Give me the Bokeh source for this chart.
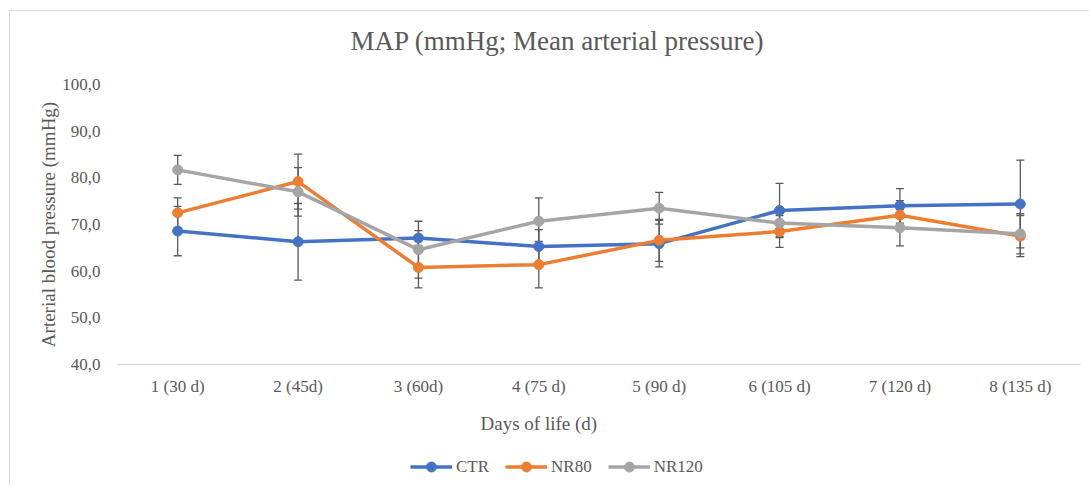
from bokeh.plotting import figure
from bokeh.layouts import column
from bokeh.models import (ColumnDataSource, Whisker, TeeHead, FixedTicker, Legend,
                          LegendItem, Range1d, LinearAxis)
from bokeh.embed import file_html
from bokeh.resources import INLINE

# Measurement points (days of life)
categories = ["1 (30 d)", "2 (45d)", "3 (60d)", "4 (75 d)", "5 (90 d)",
              "6 (105 d)", "7 (120 d)", "8 (135 d)"]
y_ticks = [40, 50, 60, 70, 80, 90, 100]
y_tick_labels = ["40,0", "50,0", "60,0", "70,0", "80,0", "90,0", "100,0"]

# Mean arterial pressure (mmHg) and error per group
ctr = [68.6, 66.3, 67.1, 65.3, 65.9, 73.0, 74.0, 74.4]
ctr_err = [5.3, 8.2, 1.6, 3.6, 5.0, 5.8, 3.7, 9.4]
nr80 = [72.5, 79.2, 60.8, 61.4, 66.6, 68.5, 72.0, 67.5]
nr80_err = [3.2, 5.9, 4.4, 5.0, 4.5, 3.4, 3.1, 4.4]
nr120 = [81.7, 77.0, 64.6, 70.7, 73.5, 70.3, 69.3, 68.0]
nr120_err = [3.1, 5.2, 6.1, 5.0, 3.4, 2.9, 3.9, 4.3]

series = [("CTR", ctr, ctr_err, "#4472C4"),
          ("NR80", nr80, nr80_err, "#ED7D31"),
          ("NR120", nr120, nr120_err, "#A5A5A5")]

TITLE = "MAP (mmHg; Mean arterial pressure)"
X_TITLE = "Days of life (d)"
Y_TITLE = "Arterial blood pressure (mmHg)"

FONT = "Liberation Serif"
TEXT = "#595959"
FRAME_LINE = "1px solid #D9D9D9"

x_pos = list(range(1, len(categories) + 1))

# ---- main chart ----
p = figure(width=1080, height=435, x_range=Range1d(0.5, 8.5), y_range=Range1d(40, 100),
           output_backend="svg", toolbar_location=None,
           min_border_left=107, min_border_right=10, min_border_top=73,
           min_border_bottom=82, margin=(10, 0, 0, 9))
p.styles = {"border-top": FRAME_LINE, "border-left": FRAME_LINE}
p.background_fill_color = "white"
p.border_fill_color = "white"
p.outline_line_color = None
p.xgrid.visible = False
p.ygrid.visible = False


def bare_axis(axis):
    axis.axis_line_color = None
    axis.major_tick_line_color = None
    axis.minor_tick_line_color = None
    axis.major_label_text_font = FONT
    axis.major_label_text_color = TEXT


# x axis with category labels
xa = p.xaxis[0]
xa.ticker = FixedTicker(ticks=x_pos)
xa.major_label_overrides = {i: c for i, c in zip(x_pos, categories)}
bare_axis(xa)
xa.axis_line_color = "#D9D9D9"
xa.axis_line_width = 1.5
xa.major_label_text_font_size = "17px"
xa.major_label_standoff = 6

# x axis title, set slightly left of the plot centre
x_title_pos = 4.0
xt = LinearAxis(ticker=FixedTicker(ticks=[x_title_pos]),
                major_label_overrides={x_title_pos: X_TITLE})
bare_axis(xt)
xt.major_label_text_font_size = "19px"
xt.major_label_standoff = 8
p.add_layout(xt, "below")

# chart title
title_pos = 4.155
tt = LinearAxis(ticker=FixedTicker(ticks=[title_pos]),
                major_label_overrides={title_pos: TITLE})
bare_axis(tt)
tt.major_label_text_font_size = "27px"
tt.major_label_standoff = 23
p.add_layout(tt, "above")

# y axis
ya = p.yaxis[0]
ya.ticker = FixedTicker(ticks=y_ticks)
ya.major_label_overrides = {t: l for t, l in zip(y_ticks, y_tick_labels)}
bare_axis(ya)
ya.major_label_text_font_size = "17px"
ya.major_label_standoff = 11
ya.axis_label = Y_TITLE
ya.axis_label_text_font = FONT
ya.axis_label_text_font_size = "19px"
ya.axis_label_text_font_style = "normal"
ya.axis_label_text_color = TEXT
ya.axis_label_standoff = 0

# error bars (drawn beneath the lines)
for name, vals, errs, color in series:
    src = ColumnDataSource(dict(x=x_pos,
                                upper=[v + e for v, e in zip(vals, errs)],
                                lower=[v - e for v, e in zip(vals, errs)]))
    w = Whisker(base="x", upper="upper", lower="lower", source=src,
                line_color="#595959", line_width=1.3,
                upper_head=TeeHead(size=8, line_color="#595959", line_width=1.3),
                lower_head=TeeHead(size=8, line_color="#595959", line_width=1.3))
    p.add_layout(w)

for name, vals, errs, color in series:
    src = ColumnDataSource(dict(x=x_pos, y=vals))
    p.line("x", "y", source=src, line_color=color, line_width=3.5)
    p.scatter("x", "y", source=src, size=10, fill_color=color, line_color=color)

# ---- legend strip under the chart ----
# the strip's ranges sit away from the data, so only the legend keys show
lg = figure(width=1080, height=40, x_range=Range1d(-2, -1), y_range=Range1d(0, 1),
            output_backend="svg", toolbar_location=None,
            x_axis_location=None, y_axis_location=None,
            min_border_left=0, min_border_right=0, min_border_top=0,
            min_border_bottom=0, margin=(0, 0, 0, 9))
lg.styles = {"border-left": FRAME_LINE}
lg.outline_line_color = None
lg.xgrid.visible = False
lg.ygrid.visible = False

items = []
for name, vals, errs, color in series:
    key = ColumnDataSource(dict(x=x_pos, y=vals))
    lr = lg.line("x", "y", source=key, line_color=color, line_width=3.5)
    cr = lg.scatter("x", "y", source=key, size=10, fill_color=color, line_color=color)
    items.append(LegendItem(label=name, renderers=[lr, cr]))

legend = Legend(items=items, orientation="horizontal", location=(293, 6),
                glyph_width=42, glyph_height=25, label_standoff=4, spacing=16,
                padding=3, margin=0, border_line_color=None, background_fill_alpha=0,
                label_text_font=FONT, label_text_font_size="17px", label_text_color=TEXT)
lg.add_layout(legend)

layout = column(p, lg, spacing=0)

open("out.html", "w").write(file_html(layout, INLINE))
